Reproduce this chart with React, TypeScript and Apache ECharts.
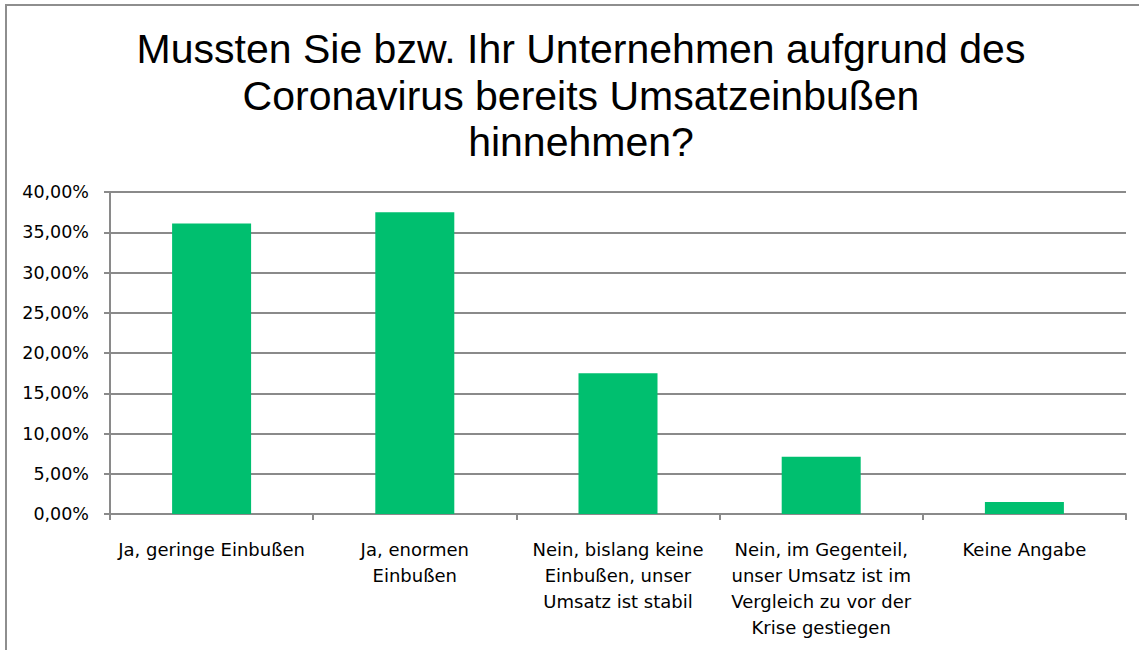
import React, { useEffect, useRef } from "react";
import * as echarts from "echarts";

const titleText = "Mussten Sie bzw. Ihr Unternehmen aufgrund des\nCoronavirus bereits Umsatzeinbußen\nhinnehmen?";
const categories = [
  "Ja, geringe Einbußen",
  "Ja, enormen\nEinbußen",
  "Nein, bislang keine\nEinbußen, unser\nUmsatz ist stabil",
  "Nein, im Gegenteil,\nunser Umsatz ist im\nVergleich zu vor der\nKrise gestiegen",
  "Keine Angabe",
];
const values = [36.1, 37.5, 17.5, 7.1, 1.5];
const yMin = 0;
const yMax = 40;
const yInterval = 5;

export default function App() {
  const ref = useRef<HTMLDivElement>(null);
  useEffect(() => {
    if (!ref.current) return;
    const chart = echarts.init(ref.current, undefined, { renderer: "svg" });
    chart.setOption({
      animation: false,
      backgroundColor: "#ffffff",
      graphic: [
        {
          type: "rect",
          shape: { x: 6, y: 5, width: 1160, height: 680 },
          style: { fill: "none", stroke: "#8e8e8e", lineWidth: 2 },
          silent: true,
        },
      ],
      title: {
        text: titleText,
        left: 576,
        textAlign: "center",
        top: 21,
        textStyle: {
          fontFamily: "Liberation Sans, Arial, sans-serif",
          fontSize: 41,
          fontWeight: "normal",
          color: "#000000",
          lineHeight: 46.5,
        },
      },
      grid: { left: 110, right: 13, top: 192, bottom: 136, containLabel: false },
      xAxis: {
        type: "category",
        data: categories,
        axisLine: { lineStyle: { color: "#8a8a8a", width: 2 } },
        axisTick: { show: true, alignWithLabel: false, length: 6, lineStyle: { color: "#8a8a8a", width: 2 } },
        axisLabel: {
          interval: 0,
          margin: 22,
          fontFamily: "DejaVu Sans, sans-serif",
          fontSize: 18,
          lineHeight: 26,
          color: "#000000",
        },
      },
      yAxis: {
        type: "value",
        min: yMin,
        max: yMax,
        interval: yInterval,
        axisLine: { show: true, lineStyle: { color: "#8a8a8a", width: 2 } },
        axisTick: { show: true, length: 6, lineStyle: { color: "#8a8a8a", width: 2 } },
        splitLine: { show: true, lineStyle: { color: "#8a8a8a", width: 2 } },
        axisLabel: {
          margin: 21,
          fontFamily: "DejaVu Sans, sans-serif",
          fontSize: 17.5,
          color: "#000000",
          formatter: (v: number) => v.toFixed(2).replace(".", ",") + "%",
        },
      },
      series: [
        {
          type: "bar",
          data: values,
          barWidth: 79,
          itemStyle: { color: "#00bf6f" },
        },
      ],
    });
    return () => chart.dispose();
  }, []);
  return (
    <div
      ref={ref}
      style={{ position: "fixed", left: 0, top: 0, width: 1139, height: 650 }}
    />
  );
}
